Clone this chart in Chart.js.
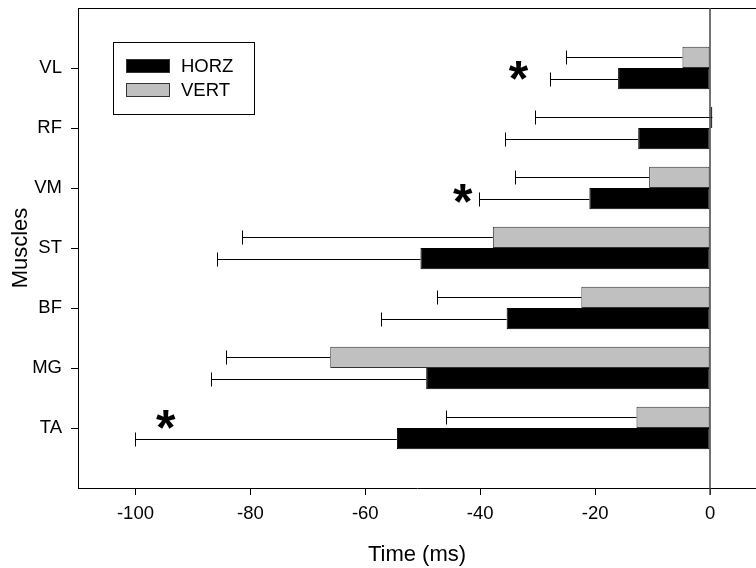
<!DOCTYPE html>
<html>
<head>
<meta charset="utf-8">
<title>Muscle onset time</title>
<script src="https://cdn.jsdelivr.net/npm/chart.js@4.4.0/dist/chart.umd.min.js"></script>
<style>
  html, body { margin: 0; padding: 0; background: #fff; overflow: hidden; }
  #wrap { position: relative; width: 756px; height: 568px; }
</style>
</head>
<body>
<div id="wrap"><canvas id="muscleChart"></canvas></div>
<script>
// muscles, top to bottom
const muscles = ['VL', 'RF', 'VM', 'ST', 'BF', 'MG', 'TA'];
const horzMean = [-16.0, -12.5, -21.0, -50.4, -35.4, -49.4, -54.5];
const horzErr = [11.8, 23.1, 19.2, 35.4, 21.8, 37.5, 45.6];
const vertMean = [-4.8, 0.4, -10.6, -37.8, -22.4, -66.1, -12.8];
const vertErr = [20.2, 30.9, 23.4, 43.6, 25.2, 18.2, 33.1];
const timeTicks = [-100, -80, -60, -40, -20, 0];
// significance markers (muscle, time in ms, shift in category units)
const starMuscles = ['VL', 'VM', 'TA'];
const starTime = [-33.3, -43.0, -94.7];
const starShift = [0.04, 0.09, -0.15];

const FONT = "'Liberation Sans', Arial, sans-serif";

// an empty slot above VL and below TA, like the original plot
const labels = [''].concat(muscles, ['']);
const pad = arr => [null].concat(arr, [null]);

const errorBars = {
  id: 'errorBars',
  afterDatasetsDraw(chart) {
    const ctx = chart.ctx;
    const xs = chart.scales.x;
    ctx.save();
    ctx.strokeStyle = '#000';
    ctx.lineWidth = 1;
    chart.data.datasets.forEach((ds, di) => {
      const meta = chart.getDatasetMeta(di);
      meta.data.forEach((bar, i) => {
        const v = ds.data[i];
        if (v == null) return;
        const end = Math.round(xs.getPixelForValue(v - ds.errors[i])) + 0.5;
        const y = Math.round(bar.y) + 0.5;
        ctx.beginPath();
        ctx.moveTo(bar.x, y);
        ctx.lineTo(end, y);
        ctx.moveTo(end, y - 7);
        ctx.lineTo(end, y + 7);
        ctx.stroke();
      });
    });
    ctx.restore();
  }
};

const extras = {
  id: 'extras',
  afterDraw(chart) {
    const ctx = chart.ctx;
    const a = chart.chartArea;
    const xs = chart.scales.x;
    const ys = chart.scales.y;
    ctx.save();

    // top frame line
    ctx.strokeStyle = '#000';
    ctx.lineWidth = 1;
    ctx.beginPath();
    ctx.moveTo(a.left, a.top + 0.5);
    ctx.lineTo(756, a.top + 0.5);
    ctx.stroke();

    // zero reference line
    const zx = Math.round(xs.getPixelForValue(0));
    ctx.strokeStyle = '#444';
    ctx.lineWidth = 1.5;
    ctx.beginPath();
    ctx.moveTo(zx, a.top);
    ctx.lineTo(zx, a.bottom + 7);
    ctx.stroke();

    // legend
    const lx = a.left + 35, ly = a.top + 34;
    ctx.strokeStyle = '#000';
    ctx.lineWidth = 1;
    ctx.strokeRect(lx + 0.5, ly + 0.5, 141, 72);
    const items = [
      { text: 'HORZ', fill: '#000000' },
      { text: 'VERT', fill: '#c0c0c0' }
    ];
    ctx.font = '18.5px ' + FONT;
    ctx.textBaseline = 'middle';
    ctx.textAlign = 'left';
    items.forEach((it, k) => {
      const sy = ly + 17 + k * 24;
      ctx.fillStyle = it.fill;
      ctx.fillRect(lx + 13, sy, 44, 14);
      ctx.strokeStyle = '#333';
      ctx.strokeRect(lx + 13.5, sy + 0.5, 43, 13);
      ctx.fillStyle = '#000';
      ctx.fillText(it.text, lx + 68, sy + 7.5);
    });

    // asterisks
    ctx.font = 'bold 50px ' + FONT;
    ctx.fillStyle = '#000';
    ctx.textAlign = 'left';
    ctx.textBaseline = 'alphabetic';
    const m = ctx.measureText('*');
    const w = m.actualBoundingBoxRight + m.actualBoundingBoxLeft;
    const h = m.actualBoundingBoxAscent + m.actualBoundingBoxDescent;
    starMuscles.forEach((mu, k) => {
      const cx = xs.getPixelForValue(starTime[k]);
      const cy = ys.getPixelForValue(labels.indexOf(mu) + starShift[k]);
      ctx.fillText('*', cx - w / 2 + m.actualBoundingBoxLeft, cy - h / 2 + m.actualBoundingBoxAscent);
    });

    ctx.restore();
  }
};

new Chart(document.getElementById('muscleChart'), {
  type: 'bar',
  data: {
    labels: labels,
    datasets: [
      {
        label: 'VERT',
        data: pad(vertMean),
        errors: pad(vertErr),
        backgroundColor: '#c0c0c0',
        borderColor: '#333',
        borderWidth: 1,
        borderSkipped: false
      },
      {
        label: 'HORZ',
        data: pad(horzMean),
        errors: pad(horzErr),
        backgroundColor: '#000',
        borderColor: '#000',
        borderWidth: 1,
        borderSkipped: false
      }
    ]
  },
  options: {
    indexAxis: 'y',
    responsive: true,
    maintainAspectRatio: false,
    animation: false,
    layout: { padding: { top: 8, right: 0, left: 0, bottom: 0 } },
    datasets: {
      bar: { categoryPercentage: 0.71, barPercentage: 1.0 }
    },
    plugins: {
      legend: { display: false },
      tooltip: { enabled: false }
    },
    scales: {
      x: {
        type: 'linear',
        min: -110,
        max: 8,
        afterBuildTicks(scale) {
          scale.ticks = timeTicks.map(v => ({ value: v }));
        },
        afterFit(scale) {
          scale.height = 80;
          scale.paddingLeft = 0;
          scale.paddingRight = 0;
        },
        grid: { drawOnChartArea: false, drawTicks: true, tickLength: 7, color: '#000' },
        border: { display: true, color: '#000', width: 1 },
        ticks: { color: '#000', padding: 8, font: { family: FONT, size: 18.5 } },
        title: {
          display: true,
          text: 'Time (ms)',
          color: '#000',
          font: { family: FONT, size: 22 },
          padding: { top: 0, bottom: 0 }
        }
      },
      y: {
        type: 'category',
        offset: false,
        afterFit(scale) {
          scale.width = 78;
          scale.paddingTop = 0;
          scale.paddingBottom = 0;
        },
        grid: {
          offset: false,
          drawOnChartArea: false,
          drawTicks: true,
          tickLength: 7,
          color: c => (c.tick && c.tick.label === '') ? 'rgba(0,0,0,0)' : '#000'
        },
        border: { display: true, color: '#000', width: 1 },
        ticks: { color: '#000', padding: 9, font: { family: FONT, size: 18.5 } },
        title: {
          display: true,
          text: 'Muscles',
          color: '#000',
          font: { family: FONT, size: 22 },
          padding: { top: 8, bottom: 0 }
        }
      }
    }
  },
  plugins: [errorBars, extras]
});
</script>
</body>
</html>
